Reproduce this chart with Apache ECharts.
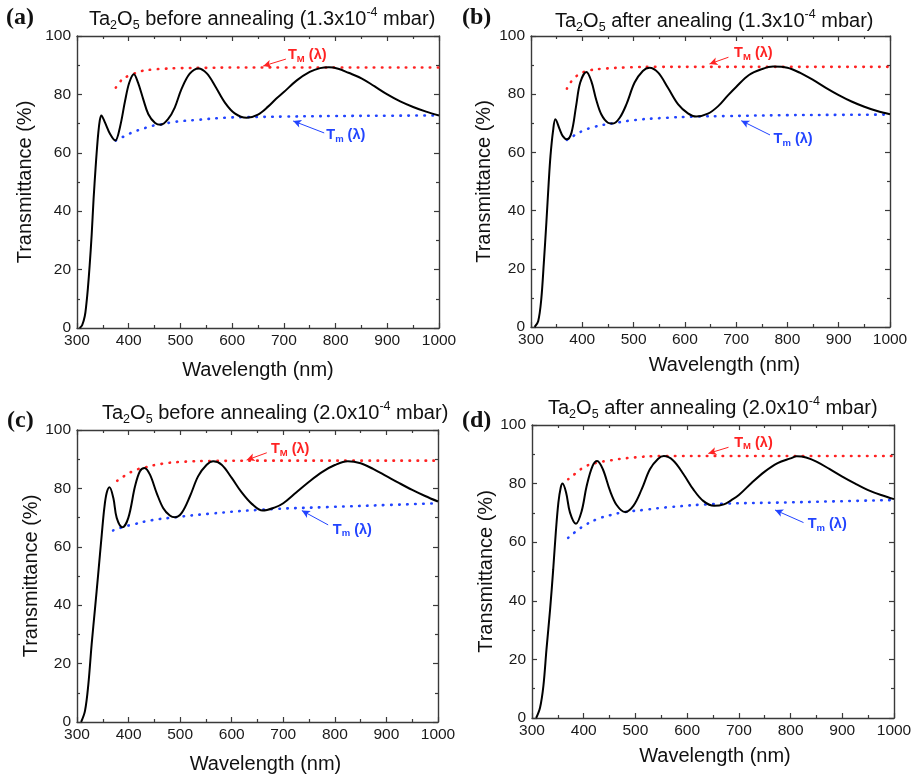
<!DOCTYPE html>
<html>
<head>
<meta charset="utf-8">
<script src="https://cdn.jsdelivr.net/npm/echarts@6/dist/echarts.min.js"></script>
<style>
  html, body { margin: 0; padding: 0; background: #fff; }
  #chart { width: 919px; height: 775px; }
</style>
</head>
<body>
<div id="chart"></div>
<script>
// ---- Measured transmittance spectra (wavelength in nm, T in %) ----
// (a) before annealing, 1.3x10^-4 mbar
const wlA = [305, 310, 315, 318, 321, 324.5, 328.4, 332, 336, 338, 341, 344, 347, 354, 364, 374, 383, 393, 401, 410, 418, 428, 438, 451, 462, 476, 489, 502, 518, 535, 551, 567, 586, 605, 628, 650, 670, 685, 700, 725, 750, 770, 787, 805, 825, 850, 875, 900, 925, 950, 975, 1000];
const tA  = [0, 1, 4, 8, 13.5, 21.5, 32, 44, 55, 60, 66.5, 71, 72.8, 70.4, 66.4, 64.2, 68.7, 77.8, 84, 86.9, 84, 78.4, 73.2, 70.2, 69.6, 71.5, 75.5, 81.8, 87.1, 88.9, 87.2, 82.9, 77.2, 73.5, 72.0, 73.1, 75.9, 78.5, 80.8, 84.8, 87.7, 89, 89.3, 88.8, 87.4, 85.5, 82.8, 80, 77.6, 75.7, 74.1, 72.8];
const tmaxWlA = [375, 383, 390, 400, 410, 425, 445, 470, 500, 550, 600, 700, 800, 1000];
const tmaxA   = [82.3, 84.3, 85.4, 86.4, 87.1, 88.0, 88.5, 88.8, 89.0, 89.1, 89.2, 89.2, 89.2, 89.2];
const tminWlA = [375, 393, 410, 425, 445, 462, 489, 534, 586, 628, 700, 800, 900, 1000];
const tminA   = [64.2, 65.8, 67.2, 68.1, 69.2, 69.7, 70.6, 71.3, 72.0, 72.2, 72.4, 72.6, 72.7, 72.8];

// (b) after annealing, 1.3x10^-4 mbar
const wlB = [307, 314, 320, 325, 330, 334.5, 338, 343, 347.5, 356, 362, 370, 379, 388, 396, 408, 417.6, 427, 437, 450, 460, 473, 486, 502, 518, 531, 548, 567, 587, 606, 622, 645, 665, 684, 700, 725, 750, 772, 800, 825, 850, 875, 900, 925, 950, 975, 1000];
const tB  = [0, 2, 9.5, 22, 36, 49.6, 58.8, 67.4, 71.4, 67.9, 65.6, 64.5, 66.8, 76, 84, 87.6, 84.5, 78.2, 73.1, 70.2, 69.9, 71.9, 76.5, 84, 88, 89.1, 87.4, 82.2, 76.5, 73.4, 72.3, 73.3, 75.9, 79.6, 82.5, 86.6, 88.6, 89.5, 89.1, 87.3, 84.9, 82.2, 79.7, 77.5, 75.7, 74.2, 73.1];
const tmaxWlB = [370, 382, 398, 414, 444, 489, 550, 650, 800, 1000];
const tmaxB   = [81.9, 85.1, 87.2, 88.2, 88.8, 89.2, 89.4, 89.4, 89.4, 89.4];
const tminWlB = [370, 385, 401, 424, 460, 502, 554, 622, 684, 800, 900, 1000];
const tminB   = [64.3, 65.9, 67.4, 68.8, 70.0, 71.1, 71.8, 72.3, 72.5, 72.8, 72.9, 73.0];

// (c) before annealing, 2.0x10^-4 mbar
const wlC = [308, 315.5, 322, 328.4, 335, 341, 348, 353, 357.5, 363, 370.5, 377, 388, 399.5, 412.5, 422, 431, 441.5, 454.5, 467, 480, 490, 503, 519, 535, 551.5, 564, 580.5, 600, 619, 639, 660, 684, 700, 725, 750, 775, 800, 825, 850, 875, 900, 925, 950, 975, 1000];
const tC  = [0, 3.8, 12.9, 26.6, 39, 50.5, 64.2, 73.3, 78.4, 80.4, 76.7, 69.9, 66.7, 69.9, 80.7, 85.9, 87, 84.7, 78.4, 73.3, 70.7, 70.1, 71.6, 77.3, 84.2, 88.1, 89.3, 88.1, 83.6, 78.7, 74.7, 72.4, 73.5, 74.9, 78.6, 82.3, 85.6, 88, 89.3, 88.6, 86.6, 84.2, 81.8, 79.5, 77.4, 75.5];
const tmaxWlC = [378, 393, 412.5, 432, 464, 503, 564, 700, 850, 1000];
const tmaxC   = [82.6, 84.4, 86.2, 87.2, 88.4, 89.1, 89.4, 89.5, 89.5, 89.5];
const tminWlC = [370, 388, 412, 445, 490, 555, 658, 800, 900, 1000];
const tminC   = [65.6, 66.7, 67.8, 69.1, 70.1, 71.3, 72.7, 73.7, 74.3, 74.9];

// (d) after annealing, 2.0x10^-4 mbar
const wlD = [308, 315.5, 322, 328, 335, 341, 346, 351, 355.5, 359, 366, 373.5, 385, 396, 405.7, 417, 426, 437, 451, 464, 480, 496, 512, 528, 544, 555, 573, 593, 612, 631, 652, 671, 685, 700, 725, 750, 775, 800, 812, 830, 850, 875, 900, 925, 950, 975, 1000];
const tD  = [0, 3.5, 10.9, 23.4, 37.1, 50.7, 63.3, 73.5, 78.6, 80, 76.9, 70.1, 66.3, 70.6, 79.2, 86, 87.7, 84.9, 77.5, 72.6, 70.3, 72.4, 78, 84.9, 88.5, 89.4, 87.9, 83.2, 78, 74.1, 72.4, 72.9, 74.3, 76.1, 80.3, 84.1, 87, 88.6, 89.3, 88.9, 87.5, 85, 82.4, 80, 77.8, 76.1, 74.7];
const tmaxWlD = [370, 386, 402.5, 425, 451, 490, 554, 700, 850, 1000];
const tmaxD   = [81.5, 83.7, 85.8, 87.1, 87.9, 88.8, 89.4, 89.4, 89.4, 89.4];
const tminWlD = [370, 386, 402.5, 425, 451, 480, 515, 567, 651, 800, 1000];
const tminD   = [61.5, 63.8, 65.8, 67.8, 69.2, 70.3, 71.0, 72.0, 73.0, 73.6, 74.4];

// ---- Axis ranges and text ----
const X_MIN = 300, X_MAX = 1000, X_STEP = 100;
const Y_MIN = 0, Y_MAX = 100, Y_STEP = 20;
const X_NAME = 'Wavelength (nm)';
const Y_NAME = 'Transmittance (%)';
const panelLetters = ['(a)', '(b)', '(c)', '(d)'];
const panelTitles = [
  '{m|Ta}{b|2}{m|O}{b|5}{m| before annealing (1.3x10}{p|-4}{m| mbar)}',
  '{m|Ta}{b|2}{m|O}{b|5}{m| after anealing (1.3x10}{p|-4}{m| mbar)}',
  '{m|Ta}{b|2}{m|O}{b|5}{m| before annealing (2.0x10}{p|-4}{m| mbar)}',
  '{m|Ta}{b|2}{m|O}{b|5}{m| after annealing (2.0x10}{p|-4}{m| mbar)}'
];

const zip = (xs, ys) => xs.map((x, i) => [x, ys[i]]);

// ---- Layout / style for each panel ----
const SANS = '"Liberation Sans", Arial, sans-serif';
const SERIF = '"Liberation Serif", "Times New Roman", serif';
const AXIS_COLOR = '#3a3a3a';
const RED = '#ff2222';
const BLUE = '#2244ff';

const panels = [
  { grid: { left: 77, top: 36, width: 362, height: 292 }, yGap: 42, xGap: 32, xPad: 0,
    title: { left: 89, top: 6 }, letter: { left: 6, top: 6 },
    curve: zip(wlA, tA), tmax: zip(tmaxWlA, tmaxA), tmin: zip(tminWlA, tminA),
    maxText: [706, 93.5], maxArrow: [[704, 92.1], [660, 89.7]],
    minText: [780, 66.1], minArrow: [[778, 66.8], [718, 70.9]] },
  { grid: { left: 531, top: 36, width: 359, height: 291 }, yGap: 37, xGap: 28, xPad: 28,
    title: { left: 555, top: 8 }, letter: { left: 462, top: 6 },
    curve: zip(wlB, tB), tmax: zip(tmaxWlB, tmaxB), tmin: zip(tminWlB, tminB),
    maxText: [694, 94.2], maxArrow: [[685, 92.7], [648, 90.4]],
    minText: [771, 64.6], minArrow: [[766, 66.0], [710, 70.9]] },
  { grid: { left: 77, top: 430, width: 361, height: 292 }, yGap: 34, xGap: 32, xPad: 16,
    title: { left: 102, top: 400 }, letter: { left: 7, top: 409 },
    curve: zip(wlC, tC), tmax: zip(tmaxWlC, tmaxC), tmin: zip(tminWlC, tminC),
    maxText: [674, 93.5], maxArrow: [[668, 92.2], [629, 89.7]],
    minText: [794, 65.8], minArrow: [[787, 67.5], [736, 72.4]] },
  { grid: { left: 532, top: 425, width: 362, height: 293 }, yGap: 34, xGap: 28, xPad: 4,
    title: { left: 548, top: 395 }, letter: { left: 462, top: 409 },
    curve: zip(wlD, tD), tmax: zip(tmaxWlD, tmaxD), tmin: zip(tminWlD, tminD),
    maxText: [689, 94.0], maxArrow: [[680, 92.4], [641, 90.3]],
    minText: [831, 66.2], minArrow: [[825, 66.7], [770, 71.0]] }
];

const tickStyle = { color: AXIS_COLOR, width: 1.2 };
function baseAxis(extra) {
  return Object.assign({
    type: 'value',
    axisLine: { show: true, onZero: false, lineStyle: { color: AXIS_COLOR, width: 1.4 } },
    axisTick: { show: true, inside: true, length: 5, lineStyle: tickStyle },
    minorTick: { show: true, splitNumber: 2, length: 3, lineStyle: tickStyle },
    splitLine: { show: false },
    minorSplitLine: { show: false }
  }, extra);
}

const grids = [], xAxes = [], yAxes = [], series = [], titles = [];

panels.forEach((p, i) => {
  grids.push(Object.assign({ containLabel: false }, p.grid));

  const xCommon = { gridIndex: i, min: X_MIN, max: X_MAX, interval: X_STEP };
  const yCommon = { gridIndex: i, min: Y_MIN, max: Y_MAX, interval: Y_STEP };
  const labelStyle = { color: '#1a1a1a', fontFamily: SANS, fontSize: 15.5, formatter: v => String(v) };

  xAxes.push(baseAxis(Object.assign({}, xCommon, {
    position: 'bottom',
    axisLabel: Object.assign({ margin: 5 }, labelStyle),
    name: X_NAME, nameLocation: 'middle', nameGap: p.xGap,
    nameTextStyle: { color: '#111', fontFamily: SANS, fontSize: 20, padding: [0, 0, 0, p.xPad] }
  })));
  xAxes.push(baseAxis(Object.assign({}, xCommon, { position: 'top', axisLabel: { show: false } })));

  yAxes.push(baseAxis(Object.assign({}, yCommon, {
    position: 'left',
    axisLabel: Object.assign({ margin: 6 }, labelStyle),
    name: Y_NAME, nameLocation: 'middle', nameGap: p.yGap, nameRotate: 90,
    nameTextStyle: { color: '#111', fontFamily: SANS, fontSize: 20 }
  })));
  yAxes.push(baseAxis(Object.assign({}, yCommon, { position: 'right', axisLabel: { show: false } })));

  const xi = 2 * i, yi = 2 * i;
  const annot = (color, sub, textAt, arrow) => ({
    markLine: {
      silent: true, animation: false,
      symbol: ['none', 'arrow'], symbolSize: [6, 8],
      lineStyle: { color: color, width: 1, type: 'solid' },
      label: { show: false },
      emphasis: { disabled: true },
      data: [[{ coord: arrow[0] }, { coord: arrow[1] }]]
    },
    markPoint: {
      silent: true, animation: false,
      symbol: 'circle', symbolSize: 0.1,
      itemStyle: { color: 'rgba(0,0,0,0)' },
      label: {
        show: true, position: 'right', distance: 1,
        formatter: '{t|T}{s|' + sub + '}{t| (λ)}',
        rich: {
          t: { color: color, fontFamily: SANS, fontWeight: 'bold', fontSize: 14.5, lineHeight: 22 },
          s: { color: color, fontFamily: SANS, fontWeight: 'bold', fontSize: 9.5, lineHeight: 22, verticalAlign: 'bottom', padding: [0, 0, 2, 0] }
        }
      },
      data: [{ coord: textAt }]
    }
  });

  series.push({
    type: 'line', xAxisIndex: xi, yAxisIndex: yi, data: p.curve,
    showSymbol: false, smooth: 0.35, silent: true,
    lineStyle: { color: '#000', width: 2 }, z: 3
  });
  series.push(Object.assign({
    type: 'line', xAxisIndex: xi, yAxisIndex: yi, data: p.tmax,
    showSymbol: false, smooth: 0.5, silent: true, z: 2,
    lineStyle: { color: RED, width: 2.6, type: [0.5, 7.5], cap: 'round' }
  }, annot(RED, 'M', p.maxText, p.maxArrow)));
  series.push(Object.assign({
    type: 'line', xAxisIndex: xi, yAxisIndex: yi, data: p.tmin,
    showSymbol: false, smooth: 0.5, silent: true, z: 2,
    lineStyle: { color: BLUE, width: 2.6, type: [0.5, 7.5], cap: 'round' }
  }, annot(BLUE, 'm', p.minText, p.minArrow)));

  const normal = { fontFamily: SANS, color: '#111', fontWeight: 'normal', lineHeight: 26 };
  titles.push({
    text: panelTitles[i], left: p.title.left, top: p.title.top, padding: 0,
    textStyle: {
      fontWeight: 'normal',
      rich: {
        m: Object.assign({ fontSize: 20 }, normal),
        b: Object.assign({ fontSize: 12.5, verticalAlign: 'bottom' }, normal),
        p: Object.assign({ fontSize: 12.5, verticalAlign: 'top' }, normal)
      }
    }
  });
  titles.push({
    text: panelLetters[i], left: p.letter.left, top: p.letter.top, padding: 0,
    textStyle: { fontFamily: SERIF, fontWeight: 'bold', fontSize: 24, color: '#111' }
  });
});

const chart = echarts.init(document.getElementById('chart'), null, { renderer: 'canvas' });
chart.setOption({
  animation: false,
  backgroundColor: '#fff',
  title: titles,
  grid: grids,
  xAxis: xAxes,
  yAxis: yAxes,
  series: series
});
</script>
</body>
</html>
